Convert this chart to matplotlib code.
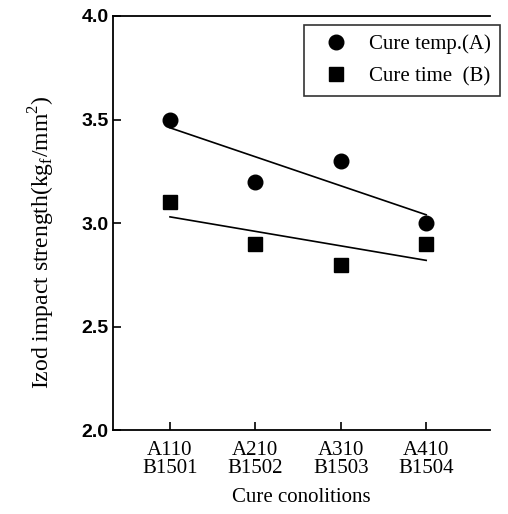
import numpy as np
import matplotlib
matplotlib.use("Agg")
import matplotlib.pyplot as plt

# --- data ---
conditions = ["A110\nB1501", "A210\nB1502", "A310\nB1503", "A410\nB1504"]
temp_a = [3.5, 3.2, 3.3, 3.0]
time_b = [3.1, 2.9, 2.8, 2.9]

serif = "Liberation Serif"
sans = "Liberation Sans"

fig = plt.figure(figsize=(5.08, 5.14), dpi=100)
ax = fig.add_axes([0.222, 0.163, 0.743, 0.806])

x = np.arange(1, len(conditions) + 1)

# points
ax.plot(x, temp_a, "o", color="black", markersize=10.5, label="Cure temp.(A)")
ax.plot(x, time_b, "s", color="black", markersize=9.5, label="Cure time  (B)")

# linear trend lines
for ys in (temp_a, time_b):
    k, b = np.polyfit(x, ys, 1)
    ax.plot([x[0], x[-1]], [k * x[0] + b, k * x[-1] + b], color="black", lw=1.2)

ax.set_xlim(0.33, 4.75)
ax.set_ylim(2.0, 4.0)
ax.set_xticks(x)
ax.set_xticklabels(conditions, fontfamily=serif, fontsize=15, linespacing=0.9)
ax.set_yticks([2.0, 2.5, 3.0, 3.5, 4.0])
ax.set_yticklabels(["2.0", "2.5", "3.0", "3.5", "4.0"],
                   fontfamily=sans, fontsize=14, fontweight="bold")
ax.tick_params(direction="in", length=6, width=1.2)
ax.tick_params(axis="y", pad=3)
ax.tick_params(axis="x", pad=8)

ax.spines["right"].set_visible(False)
for s in ("left", "bottom", "top"):
    ax.spines[s].set_linewidth(1.3)

ax.set_xlabel("Cure conolitions", fontfamily=serif, fontsize=15, labelpad=7)
ax.set_ylabel(r"Izod impact strength(kg$_\mathregular{f}$/mm$^\mathregular{2}$)",
              fontfamily=serif, fontsize=17)
ax.yaxis.set_label_coords(-0.147, 0.454)

leg = ax.legend(loc="upper right", bbox_to_anchor=(1.027, 0.978),
                borderaxespad=0.0,
                prop={"family": serif, "size": 15}, frameon=True,
                fancybox=False, edgecolor="black", handletextpad=0.5,
                handlelength=2.2, borderpad=0.45, labelspacing=0.6)
leg.get_frame().set_linewidth(1.2)

fig.savefig("out.png", dpi=100)
